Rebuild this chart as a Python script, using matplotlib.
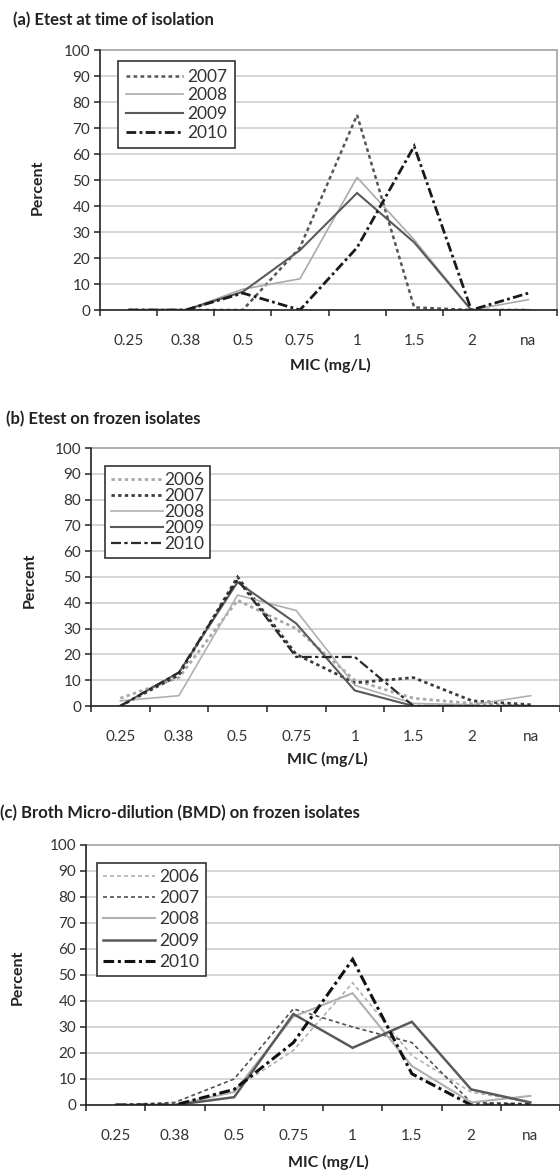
import matplotlib
matplotlib.use("Agg")
import matplotlib.pyplot as plt
import numpy as np

plt.rcParams['font.family'] = ['Lato', 'DejaVu Sans']

# ---------------- data ----------------
mic_labels = ['0.25', '0.38', '0.5', '0.75', '1', '1.5', '2', 'na']

# (a) Etest at time of isolation
a_years = ['2007', '2008', '2009', '2010']
a_2007 = [0, 0, 0, 24, 75, 1, 0, 0]
a_2008 = [0, 0, 8, 12, 51, 27, 0, 4]
a_2009 = [0, 0, 7, 23, 45, 26, 0, 0]
a_2010 = [0, 0, 6.5, 0, 24, 63, 0, 6.5]

# (b) Etest on frozen isolates
b_years = ['2006', '2007', '2008', '2009', '2010']
b_2006 = [3, 11, 41, 30, 10, 3, 1, 0]
b_2007 = [0, 12, 50, 20, 9, 11, 2, 0.5]
b_2008 = [2, 4, 43, 37, 8, 1, 0.5, 4]
b_2009 = [0, 13, 48, 32, 6, 0, 0, 0]
b_2010 = [0, 13, 49, 19, 19, 0, 0, 0]

# (c) Broth micro-dilution on frozen isolates
c_years = ['2006', '2007', '2008', '2009', '2010']
c_2006 = [0, 0, 6, 21, 47, 19, 5, 1]
c_2007 = [0, 1, 10, 37, 30, 24, 1, 0.5]
c_2008 = [0, 0, 5, 34, 43, 15, 1, 3.5]
c_2009 = [0, 0, 3, 35, 22, 32, 6, 1]
c_2010 = [0, 0, 6, 24, 56, 12, 0, 0]

titles = ['(a) Etest at time of isolation',
          '(b) Etest on frozen isolates',
          '(c) Broth Micro-dilution (BMD) on frozen isolates']

# ---------------- styles ----------------
sty_a = [
    dict(color='#555555', lw=1.8, dashes=(1.5, 1.3)),
    dict(color='#aaaaaa', lw=1.2, ls='-'),
    dict(color='#5a5a5a', lw=1.5, ls='-'),
    dict(color='#1a1a1a', lw=2.0, dashes=(3.5, 1.2, 1.0, 1.2)),
]
sty_b = [
    dict(color='#a8a8a8', lw=2.0, dashes=(1.2, 1.2)),
    dict(color='#3c3c3c', lw=2.0, dashes=(1.2, 1.2)),
    dict(color='#b0b0b0', lw=1.2, ls='-'),
    dict(color='#5a5a5a', lw=1.5, ls='-'),
    dict(color='#2a2a2a', lw=1.6, dashes=(4.5, 1.5, 1.5, 1.5)),
]
sty_c = [
    dict(color='#b0b0b0', lw=1.2, dashes=(2.4, 1.8)),
    dict(color='#505050', lw=1.2, dashes=(2.4, 1.8)),
    dict(color='#b0b0b0', lw=1.5, ls='-'),
    dict(color='#5a5a5a', lw=1.8, ls='-'),
    dict(color='#111111', lw=2.2, dashes=(3.5, 1.2, 1.0, 1.2)),
]

W, H = 560, 1171
fig = plt.figure(figsize=(W / 100, H / 100), dpi=100)


def px_axes(left, right, top, bottom):
    return fig.add_axes([left / W, 1 - bottom / H, (right - left) / W, (bottom - top) / H])


panels = [
    dict(box=(100, 557, 50, 310), years=a_years, series=[a_2007, a_2008, a_2009, a_2010], sty=sty_a,
         title=titles[0], tpos=(13, 20), ylab=(38, 187), xlab=(330, 365),
         leg=(118, 61), legkw=dict(labelspacing=0.15, handlelength=3.3, handletextpad=0.25, borderpad=0.45)),
    dict(box=(91, 560, 448, 706), years=b_years, series=[b_2006, b_2007, b_2008, b_2009, b_2010], sty=sty_b,
         title=titles[1], tpos=(6, 419), ylab=(30, 580), xlab=(327, 759),
         leg=(105, 466), legkw=dict(labelspacing=0.0, handlelength=3.0, handletextpad=0.05, borderpad=0.35)),
    dict(box=(86, 560, 845, 1105), years=c_years, series=[c_2006, c_2007, c_2008, c_2009, c_2010], sty=sty_c,
         title=titles[2], tpos=(0, 813), ylab=(18, 977), xlab=(328, 1162),
         leg=(97, 863), legkw=dict(labelspacing=0.3, handlelength=3.0, handletextpad=0.25, borderpad=0.35)),
]

x = np.arange(len(mic_labels))
for p in panels:
    l, r, t, b = p['box']
    ax = px_axes(l, r, t, b)
    for yr, vals, st in zip(p['years'], p['series'], p['sty']):
        st = dict(st)
        kw = dict(color=st.pop('color'), lw=st.pop('lw'))
        if 'dashes' in st:
            kw['dashes'] = st.pop('dashes')
        else:
            kw['ls'] = st.pop('ls')
        ax.plot(x, vals, label=yr, solid_joinstyle='miter', dash_joinstyle='miter', **kw)

    ax.set_xlim(-0.5, len(mic_labels) - 0.5)
    ax.set_ylim(0, 100)
    ax.set_yticks(np.arange(0, 101, 10))
    ax.set_xticks(x)
    ax.set_xticklabels(mic_labels)
    ax.set_xticks(np.arange(-0.5, len(mic_labels), 1), minor=True)
    ax.tick_params(axis='x', which='major', length=0, pad=17.5, labelsize=11, labelcolor='#333333')
    ax.tick_params(axis='x', which='minor', length=4, width=1.1, direction='out', color='#222222')
    ax.tick_params(axis='y', length=4, width=1.1, direction='out', color='#222222', pad=3,
                   labelsize=11, labelcolor='#333333')
    ax.yaxis.grid(True, color='#cccccc', lw=1.1)
    ax.set_axisbelow(True)
    for s in ['top', 'right']:
        ax.spines[s].set_color('#b0b0b0')
        ax.spines[s].set_linewidth(1.4)
    for s in ['left', 'bottom']:
        ax.spines[s].set_color('#222222')
        ax.spines[s].set_linewidth(1.2)
        ax.spines[s].set_zorder(3)

    ax.set_ylabel('Percent', fontsize=11.5, fontweight='bold', color='#222222')
    ax.yaxis.set_label_coords((p['ylab'][0] - l) / (r - l), (b - p['ylab'][1]) / (b - t))
    ax.set_xlabel('MIC (mg/L)', fontsize=11.5, fontweight='bold', color='#222222')
    ax.xaxis.set_label_coords((p['xlab'][0] - l) / (r - l), (b - p['xlab'][1]) / (b - t))
    ax.xaxis.label.set_va('center')
    ax.yaxis.label.set_va('center')

    lx, ly = p['leg']
    leg = ax.legend(loc='upper left', bbox_to_anchor=((lx - l) / (r - l), (b - ly) / (b - t)),
                    borderaxespad=0, frameon=True, fancybox=False, fontsize=12.5, **p['legkw'])
    fr = leg.get_frame()
    fr.set_edgecolor('#333333')
    fr.set_linewidth(1.2)
    fr.set_facecolor('white')
    fr.set_alpha(1)
    for txt in leg.get_texts():
        txt.set_color('#333333')

    fig.text(p['tpos'][0] / W, 1 - p['tpos'][1] / H, p['title'], fontsize=12, fontweight='bold',
             color='#222222', ha='left', va='center')

fig.savefig('out.png', dpi=100)
